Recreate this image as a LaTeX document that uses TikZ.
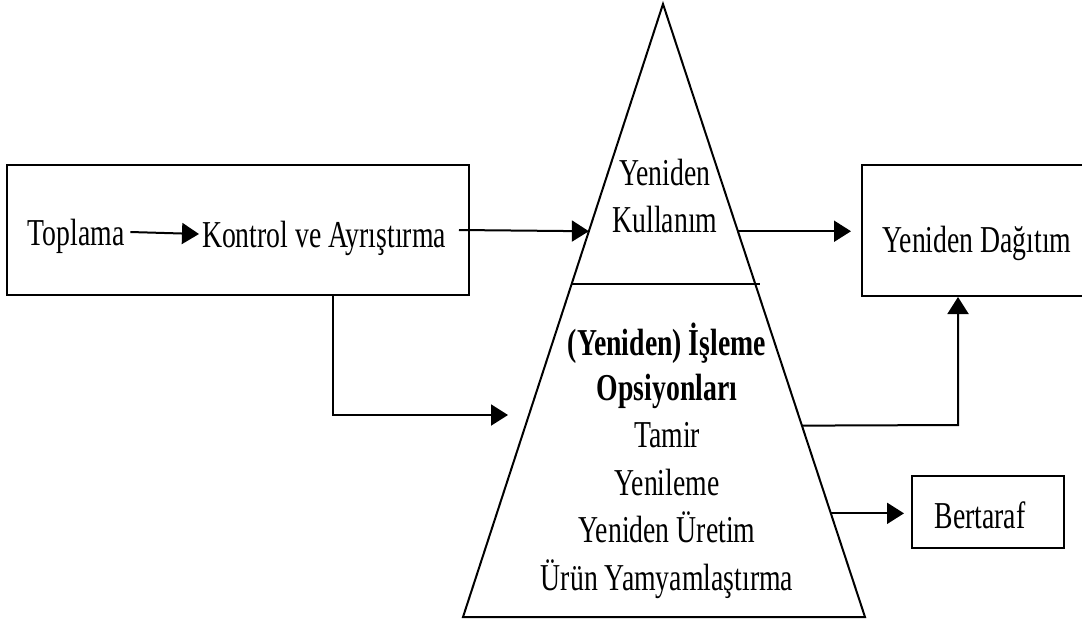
\documentclass[tikz,border=0pt]{standalone}
\usepackage{fontspec}
\setmainfont{Liberation Serif}[FakeStretch=0.73]
\usetikzlibrary{arrows.meta,calc}
\begin{document}
\begin{tikzpicture}[x=1pt,y=-1pt,
  line width=2pt,
  lbl/.style={inner sep=0pt, font=\fontsize{38}{47}\selectfont, anchor=base},
  blbl/.style={lbl, font=\fontsize{38}{47}\selectfont\bfseries},
  frame/.style={draw, rectangle, inner sep=0pt, line width=2pt},
  flow/.style={-{Triangle[length=17pt,width=21pt]}, line width=2pt}]
\useasboundingbox (0,0) rectangle (1082,622);
\clip (0,0) rectangle (1082,622);

% collection and sorting
\node[frame, minimum width=462pt, minimum height=130pt] (collect) at (238,230) {};
\node[lbl] (toplama) at (76,245) {Toplama};
\node[lbl] (kontrol) at (324,247) {Kontrol ve Ayrıştırma};
\draw[flow] ([shift={(5,-13)}]toplama.base east) -- ([shift={(-2,-13)}]kontrol.base west);

% pyramid of recovery options
\coordinate (apex) at (663,4);
\coordinate (bl) at (463,617);
\coordinate (br) at (865,617);
\draw[line join=miter] (apex) -- (br) -- (bl) -- cycle;
\coordinate (dl) at ($(apex)!0.457!(bl)$);
\draw (dl) -- ++(188,0);

\node[lbl] (reuse1) at (665,185) {Yeniden};
\node[lbl] (reuse2) at (665,232) {Kullanım};

\node[blbl] (proc1) at (667,355) {(Yeniden) İşleme};
\node[blbl] (proc2) at (667,400) {Opsiyonları};
\node[lbl] (proc3) at (667,447) {Tamir};
\node[lbl] (proc4) at (667,495) {Yenileme};
\node[lbl] (proc5) at (667,542) {Yeniden Üretim};
\node[lbl] (proc6) at (667,590) {Ürün Yamyamlaştırma};

% redistribution and disposal
\node[frame, minimum width=233pt, minimum height=131pt] (redist) at (978.5,230.5) {};
\node[lbl] (redistlbl) at (977,252) {Yeniden Dağıtım};
\node[frame, minimum width=152pt, minimum height=72pt] (dispose) at (988,512) {};
\node[lbl] (disposelbl) at (980,528) {Bertaraf};

% edge points on the pyramid
\coordinate (kin) at ($(apex)!0.3707!(bl)$);
\coordinate (kout) at ($(apex)!0.3707!(br)$);
\coordinate (procout) at ($(apex)!0.6878!(br)$);
\coordinate (dispout) at ($(apex)!0.8309!(br)$);
\coordinate (turn) at (333,415);
\coordinate (procin) at (508,415);
\coordinate (riser) at (958,425);

% flows
\draw[flow] ([shift={(12,-17)}]kontrol.base east) -- (kin);
\draw[flow] (kout) -- ($(redist.west |- kout)+(-10,0)$);
\draw[flow] (collect.south -| turn) -- (turn) -- (procin);
\draw[flow] (procout) -- (riser) -- (riser |- redist.south);
\draw[flow] (dispout) -- ($(dispose.west |- dispout)+(-7,0)$);
\end{tikzpicture}
\end{document}
